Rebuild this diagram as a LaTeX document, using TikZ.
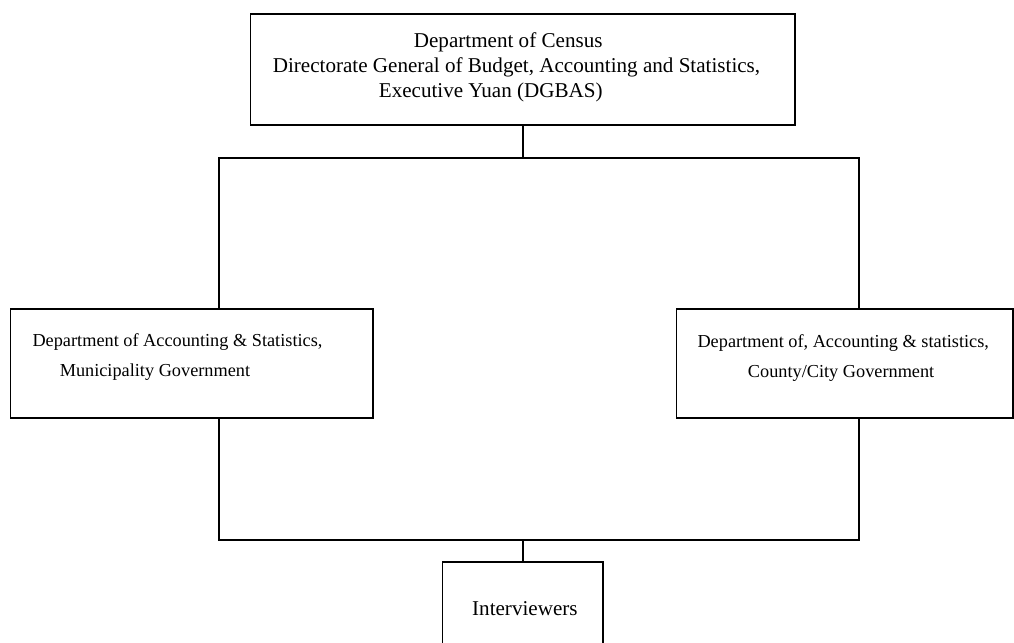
\documentclass[tikz,border=0pt]{standalone}
\usepackage{fontspec}
\setmainfont{Liberation Serif}
\usetikzlibrary{positioning}

\begin{document}
\begin{tikzpicture}[x=0.025cm, y=-0.025cm, line width=1.2pt]
    \useasboundingbox (0,0) rectangle (1014,643);

    % Top
    \node [draw, rectangle, minimum height=2.775cm, minimum width=13.61cm] (census) at (522.9,69.5) {};
    \node [anchor=west, align=left, inner sep=0, font=\fontsize{15}{17.8}\selectfont] (censustxt) at (272,67.5) {\hspace*{3.525cm}Department of Census\\Directorate General of Budget, Accounting and Statistics,\\\hspace*{2.65cm}Executive Yuan (DGBAS)};

    % Middle row
    \node [draw, rectangle, minimum height=2.725cm, minimum width=9.05cm] (muni) at (191.7,363.5) {};
    \node [anchor=west, align=left, inner sep=0, font=\fontsize{13}{21.3}\selectfont] (munitxt) at (31.7,356.7) {Department of Accounting \& Statistics,\\\hspace*{0.68cm}Municipality Government};
    \node [draw, rectangle, minimum height=2.725cm, minimum width=8.41cm] (county) at (844.85,363.5) {};
    \node [anchor=west, align=left, inner sep=0, font=\fontsize{13}{21.3}\selectfont] (countytxt) at (696.7,358) {Department of, Accounting \& statistics,\\\hspace*{1.26cm}County/City Government};

    % Bottom
    \node [draw, rectangle, minimum height=2.365cm, minimum width=4.02cm, font=\fontsize{15}{18}\selectfont] (inter) at (522.9,609) {\hspace*{0.1cm}Interviewers};

    % Lines
    \coordinate (busL) at (219,158);
    \coordinate (busR) at (859,158);
    \coordinate (lowL) at (219,540);
    \coordinate (lowR) at (859,540);
    \draw (census.south) -- (census.south |- busL);
    \draw (busL |- muni.north) -- (busL) -- (busR) -- (busR |- county.north);
    \draw (lowL |- muni.south) -- (lowL) -- (lowR) -- (lowR |- county.south);
    \draw (inter.north |- lowL) -- (inter.north);

\end{tikzpicture}
\end{document}
